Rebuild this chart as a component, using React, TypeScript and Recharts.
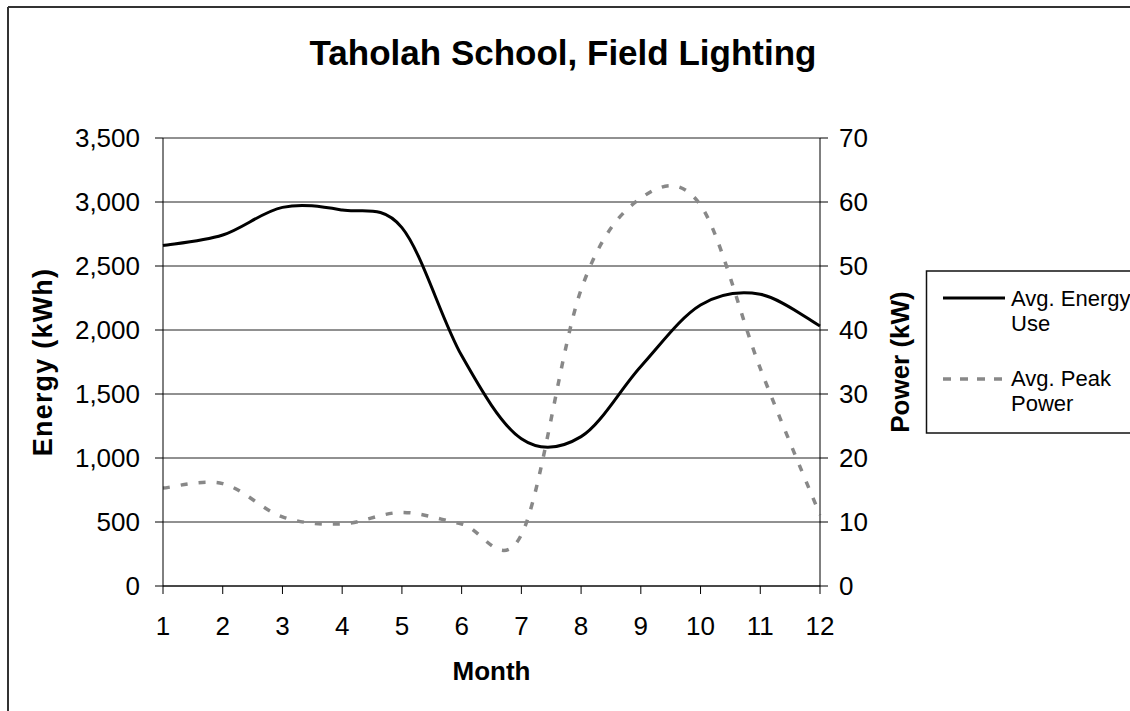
import { LineChart, Line, XAxis, YAxis, CartesianGrid, Label } from "recharts";

const months = [1, 2, 3, 4, 5, 6, 7, 8, 9, 10, 11, 12];
const energyUse = [2660, 2742, 2958, 2937, 2800, 1800, 1150, 1167, 1715, 2195, 2279, 2031];
const peakPower = [15.3, 16.0, 10.8, 9.7, 11.5, 9.7, 8.0, 46.3, 60.6, 59.5, 34.0, 11.1];
const energyTicks = [0, 500, 1000, 1500, 2000, 2500, 3000, 3500];
const powerTicks = [0, 10, 20, 30, 40, 50, 60, 70];

const FONT = "'Liberation Sans', Arial, Helvetica, sans-serif";
const GRAY = "#888888";

const data = months.map((m, i) => ({ month: m, energy: energyUse[i], power: peakPower[i] }));

const tickStyle = { fontSize: 26, fill: "#000", fontFamily: FONT };

// spreadsheet-style smoothing: cubic bezier through every point, control points at 1/6 of the neighbour span
function smoothCurve(context: any) {
  let pts: number[][] = [];
  return {
    areaStart() {},
    areaEnd() {},
    lineStart() {
      pts = [];
    },
    lineEnd() {
      if (!pts.length) return;
      context.moveTo(pts[0][0], pts[0][1]);
      for (let i = 0; i < pts.length - 1; i++) {
        const p0 = pts[i - 1] || pts[i];
        const p1 = pts[i];
        const p2 = pts[i + 1];
        const p3 = pts[i + 2] || p2;
        context.bezierCurveTo(
          p1[0] + (p2[0] - p0[0]) / 6,
          p1[1] + (p2[1] - p0[1]) / 6,
          p2[0] - (p3[0] - p1[0]) / 6,
          p2[1] - (p3[1] - p1[1]) / 6,
          p2[0],
          p2[1]
        );
      }
    },
    point(x: number, y: number) {
      pts.push([+x, +y]);
    },
  };
}

export default function App() {
  return (
    <div
      style={{
        position: "relative",
        width: 1130,
        height: 711,
        overflow: "hidden",
        background: "#fff",
        fontFamily: FONT,
      }}
    >
      <style>{`html,body{margin:0;padding:0;overflow:hidden;background:#fff;}`}</style>
      <LineChart
        width={1130}
        height={711}
        data={data}
        margin={{ top: 138, right: 210, bottom: 55, left: 13 }}
      >
        <CartesianGrid yAxisId="left" vertical={false} stroke="#222" strokeWidth={1} />
        <XAxis
          dataKey="month"
          type="number"
          domain={[1, 12]}
          ticks={months}
          interval={0}
          height={70}
          tickSize={8}
          tickMargin={23}
          tick={tickStyle}
          axisLine={{ stroke: "#000" }}
          tickLine={{ stroke: "#000" }}
        >
          <Label
            value="Month"
            position="center"
            dy={50}
            fontSize={26}
            fontWeight="bold"
            fill="#000"
            style={{ fontFamily: FONT }}
          />
        </XAxis>
        <YAxis
          yAxisId="left"
          domain={[0, 3500]}
          ticks={energyTicks}
          width={150}
          tickSize={8}
          tickMargin={15}
          tick={tickStyle}
          tickFormatter={(v: number) => v.toLocaleString("en-US")}
          axisLine={{ stroke: "#000" }}
          tickLine={{ stroke: "#000" }}
        >
          <Label
            value="Energy (kWh)"
            angle={-90}
            position="center"
            dx={-46}
            fontSize={27}
            fontWeight="bold"
            fill="#000"
            style={{ fontFamily: FONT, letterSpacing: "1.2px" }}
          />
        </YAxis>
        <YAxis
          yAxisId="right"
          orientation="right"
          domain={[0, 70]}
          ticks={powerTicks}
          width={100}
          tickSize={8}
          tickMargin={11}
          tick={tickStyle}
          axisLine={{ stroke: "#000" }}
          tickLine={{ stroke: "#000" }}
        >
          <Label
            value="Power (kW)"
            angle={-90}
            position="center"
            dx={30}
            fontSize={26}
            fontWeight="bold"
            fill="#000"
            style={{ fontFamily: FONT }}
          />
        </YAxis>
        <Line
          yAxisId="left"
          type={smoothCurve as any}
          dataKey="energy"
          stroke="#000"
          strokeWidth={3}
          dot={false}
          isAnimationActive={false}
        />
        <Line
          yAxisId="right"
          type={smoothCurve as any}
          dataKey="power"
          stroke={GRAY}
          strokeWidth={3.5}
          strokeDasharray="7 11"
          dot={false}
          isAnimationActive={false}
        />
      </LineChart>

      <svg
        width={1130}
        height={711}
        style={{ position: "absolute", left: 0, top: 0, pointerEvents: "none" }}
      >
        {/* chart area frame (right and bottom edges fall outside the view) */}
        <line x1={8} y1={7} x2={1130} y2={7} stroke="#333" strokeWidth={2} />
        <line x1={8} y1={7} x2={8} y2={711} stroke="#333" strokeWidth={2} />

        <text
          x={563}
          y={65}
          textAnchor="middle"
          fontSize={35}
          fontWeight="bold"
          fontFamily={FONT}
          fill="#000"
        >
          Taholah School, Field Lighting
        </text>

        {/* legend */}
        <rect x={926.5} y={271} width={250} height={162} fill="#fff" stroke="#111" strokeWidth={1.5} />
        <line x1={943} y1={298} x2={1005} y2={298} stroke="#000" strokeWidth={3} />
        <line x1={943} y1={379} x2={1005} y2={379} stroke={GRAY} strokeWidth={3.5} strokeDasharray="8 9" />
        <g fontSize={22} fontFamily={FONT} fill="#000">
          <text x={1011} y={306}>Avg. Energy</text>
          <text x={1011} y={331}>Use</text>
          <text x={1011} y={386}>Avg. Peak</text>
          <text x={1011} y={411}>Power</text>
        </g>
      </svg>
    </div>
  );
}
